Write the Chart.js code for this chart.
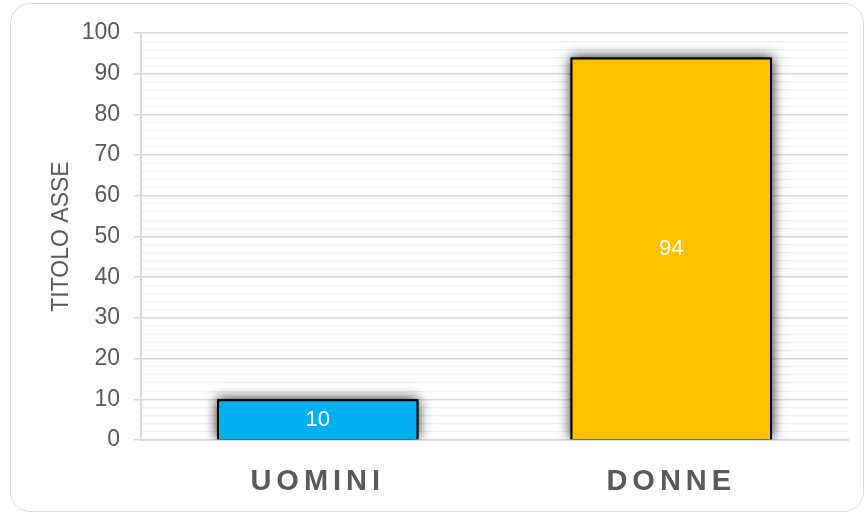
<!DOCTYPE html>
<html>
<head>
<meta charset="utf-8">
<script src="https://cdn.jsdelivr.net/npm/chart.js@4/dist/chart.umd.min.js"></script>
<style>
  html, body { margin: 0; padding: 0; background: #fff; }
  #wrap { position: relative; width: 868px; height: 513px; overflow: hidden; }
  #frame {
    position: absolute; left: 10px; top: 3px; width: 854px; height: 509px;
    border: 1.5px solid #d9d9d9; border-radius: 20px; box-sizing: border-box;
    pointer-events: none;
  }
</style>
</head>
<body>
<div id="wrap">
  <canvas id="chart" width="868" height="513"></canvas>
  <div id="frame"></div>
</div>
<script>
const categories = ['UOMINI', 'DONNE'];
const values = [10, 94];
const barColors = ['#00B0F0', '#FFC000'];
const axisTitle = 'TITOLO ASSE';

// soft shadow behind the bars (the bar element clips itself, so draw it first)
const barShadow = {
  id: 'barShadow',
  beforeDatasetsDraw(chart) {
    const ctx = chart.ctx;
    const area = chart.chartArea;
    const meta = chart.getDatasetMeta(0);
    ctx.save();
    ctx.beginPath();
    ctx.rect(area.left, area.top - 25, area.right - area.left, area.bottom - area.top + 25);
    ctx.clip();
    ctx.shadowColor = 'rgba(0, 0, 0, 0.9)';
    ctx.shadowBlur = 12;
    ctx.fillStyle = '#000';
    meta.data.forEach((bar) => {
      const p = bar.getProps(['x', 'y', 'base', 'width'], true);
      ctx.fillRect(p.x - p.width / 2, p.y, p.width, p.base - p.y);
    });
    ctx.restore();
  },
};

// value in the middle of each bar
const barLabels = {
  id: 'barLabels',
  afterDatasetsDraw(chart) {
    const ctx = chart.ctx;
    const meta = chart.getDatasetMeta(0);
    ctx.save();
    ctx.font = '22px "Liberation Sans", Arial, sans-serif';
    ctx.fillStyle = '#ffffff';
    ctx.textAlign = 'center';
    ctx.textBaseline = 'middle';
    meta.data.forEach((bar, i) => {
      ctx.fillText(String(values[i]), bar.x, (bar.y + bar.base) / 2 + 1);
    });
    ctx.restore();
  },
};

// spaced out category names
const spacedLabels = {
  id: 'spacedLabels',
  beforeDraw(chart) {
    const scale = chart.scales.x;
    if (scale._spaced) return;
    const orig = scale.drawLabels;
    scale.drawLabels = function (area) {
      const ctx = this.ctx;
      ctx.save();
      ctx.letterSpacing = '5px';
      orig.call(this, area);
      ctx.restore();
    };
    scale._spaced = true;
  },
};

new Chart(document.getElementById('chart'), {
  type: 'bar',
  data: {
    labels: categories,
    datasets: [
      {
        data: values,
        backgroundColor: barColors,
        borderColor: '#000000',
        borderWidth: 2,
        barPercentage: 0.57,
        categoryPercentage: 1,
      },
    ],
  },
  options: {
    responsive: false,
    animation: false,
    layout: { padding: { left: 40, right: 20, top: 33, bottom: 0 } },
    plugins: {
      legend: { display: false },
      tooltip: { enabled: false },
    },
    scales: {
      x: {
        afterFit: (scale) => { scale.height = 73; },
        grid: { display: false, tickLength: 8 },
        border: { display: true, color: '#d9d9d9', width: 2 },
        ticks: {
          color: '#595959',
          padding: 19,
          font: { family: '"Liberation Sans", Arial, sans-serif', size: 29, weight: 'bold', lineHeight: 1 },
        },
      },
      y: {
        min: 0,
        max: 100,
        afterFit: (scale) => { scale.width = 101; },
        title: {
          display: true,
          text: axisTitle,
          color: '#595959',
          padding: { top: 10, bottom: 0 },
          font: { family: '"Liberation Sans", Arial, sans-serif', size: 23, lineHeight: 1 },
        },
        border: { display: true, color: '#d9d9d9', width: 2 },
        grid: {
          color: (c) => (c.tick && c.tick.value % 10 === 0 ? '#d9d9d9' : '#f0f0f0'),
          lineWidth: (c) => (c.tick && c.tick.value % 10 === 0 ? 1.5 : 1.2),
          tickColor: (c) => (c.tick && c.tick.value % 10 === 0 ? '#d9d9d9' : 'rgba(0,0,0,0)'),
          tickLength: 7,
        },
        ticks: {
          stepSize: 2,
          autoSkip: false,
          color: '#595959',
          padding: 14,
          font: { family: '"Liberation Sans", Arial, sans-serif', size: 23 },
          callback: (v) => (v % 10 === 0 ? v : ''),
        },
      },
    },
  },
  plugins: [barShadow, barLabels, spacedLabels],
});
</script>
</body>
</html>
